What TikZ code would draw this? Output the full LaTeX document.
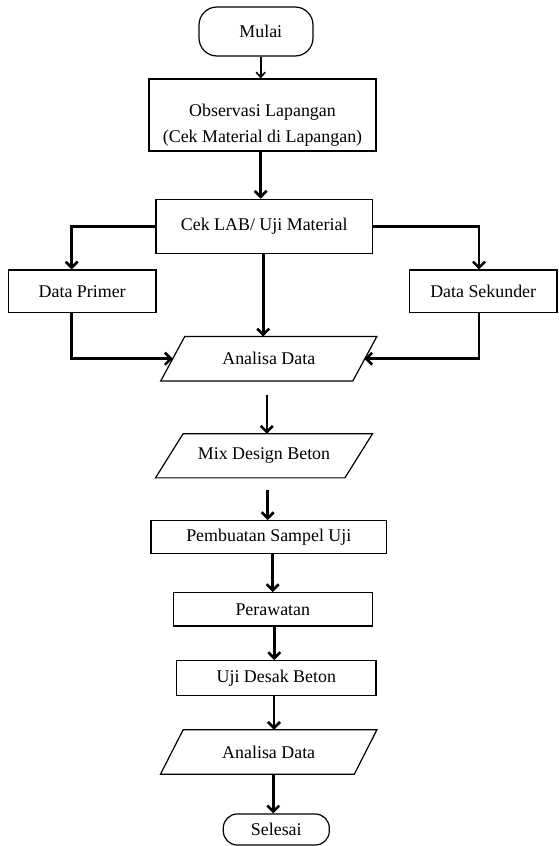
\documentclass[tikz,border=0pt]{standalone}
\usepackage{fontspec}
\setmainfont{Liberation Serif}
\usetikzlibrary{arrows.meta,calc}
\begin{document}
\begin{tikzpicture}[x=1pt,y=-1pt,
  txt/.style={inner sep=0pt, align=center, font=\fontsize{17.9}{26}\selectfont},
  box/.style={txt, draw, line width=1.2pt},
  para/.style={txt},
  pline/.style={draw, line width=1.2pt, line join=miter},
  arr/.style={line width=2.6pt, -{Straight Barb[length=6pt,width=12pt]}},
  thinarr/.style={line width=1.6pt, -{Straight Barb[length=5pt,width=9pt]}}]
\useasboundingbox (0,0) rectangle (559,846);

% nodes
\node[box, minimum width=114pt, minimum height=49pt, rounded corners=18pt] (mulai) at (256,31.5) {\hspace*{9.6pt}Mulai};
\node[box, minimum width=227pt, minimum height=72pt, text height=60pt, text depth=4.6pt] (obs) at (262.5,115) {Observasi Lapangan\\(Cek Material di Lapangan)};
\node[box, minimum width=216.3pt, minimum height=54pt] (cek) at (264.2,226.3) {Cek LAB/ Uji Material};
\node[box, minimum width=147.7pt, minimum height=42.3pt] (primer) at (82.2,291.2) {Data Primer};
\node[box, minimum width=147.7pt, minimum height=42.3pt] (sekunder) at (483.2,291.2) {Data Sekunder};
\node[para, minimum width=215.7pt, minimum height=44pt] (an1) at (268.8,358.7) {Analisa Data};
\draw[pline] ([xshift=24pt]an1.north west) -- (an1.north east) -- ([xshift=-24pt]an1.south east) -- (an1.south west) -- cycle;
\node[para, minimum width=216.6pt, minimum height=43.7pt] (mix) at (264,455.8) {Mix Design Beton};
\draw[pline] ([xshift=27.6pt]mix.north west) -- (mix.north east) -- ([xshift=-27.6pt]mix.south east) -- (mix.south west) -- cycle;
\node[box, minimum width=235.7pt, minimum height=32.6pt] (pemb) at (268.8,537) {Pembuatan Sampel Uji};
\node[box, minimum width=199pt, minimum height=33.3pt] (pera) at (272.8,609.3) {Perawatan};
\node[box, minimum width=199.3pt, minimum height=34.6pt] (uji) at (276.3,678) {Uji Desak Beton};
\node[para, minimum width=216pt, minimum height=44pt] (an2) at (268.7,752) {Analisa Data};
\draw[pline] ([xshift=22.6pt]an2.north west) -- (an2.north east) -- ([xshift=-22.6pt]an2.south east) -- (an2.south west) -- cycle;
\node[box, minimum width=106pt, minimum height=31pt, rounded corners=14pt] (selesai) at (276.3,829.5) {Selesai};

% connectors
\draw[thinarr] ([xshift=4.7pt]mulai.south) -- ([xshift=4.7pt]mulai.south |- obs.north);
\draw[arr] ([xshift=-1.8pt]obs.south) -- ([xshift=-1.8pt]obs.south |- cek.north);
\draw[arr] (cek.west) -| ([xshift=-10.5pt]primer.north);
\draw[arr] (cek.east) -| ([xshift=-4.2pt]sekunder.north);
\draw[arr] ([xshift=-1pt]cek.south) -- ([xshift=-1pt]cek.south |- an1.north);
\draw[arr] ([xshift=-11pt]primer.south) |- ([xshift=12pt]an1.west);
\draw[arr] ([xshift=-4.2pt]sekunder.south) |- ([xshift=-12.5pt]an1.east);
\draw[arr, shorten <=14pt] ([xshift=-2pt]an1.south) -- ([xshift=-2pt]an1.south |- mix.north);
\draw[arr, shorten <=12pt] ([xshift=3.7pt]mix.south) -- ([xshift=3.7pt]mix.south |- pemb.north);
\draw[arr] ([xshift=3.9pt]pemb.south) -- ([xshift=3.9pt]pemb.south |- pera.north);
\draw[arr] ([xshift=1.5pt]pera.south) -- ([xshift=1.5pt]pera.south |- uji.north);
\draw[arr] ([xshift=-2.3pt]uji.south) -- ([xshift=-2.3pt]uji.south |- an2.north);
\draw[arr] ([xshift=4.6pt]an2.south) -- ([xshift=4.6pt]an2.south |- selesai.north);
\end{tikzpicture}
\end{document}
